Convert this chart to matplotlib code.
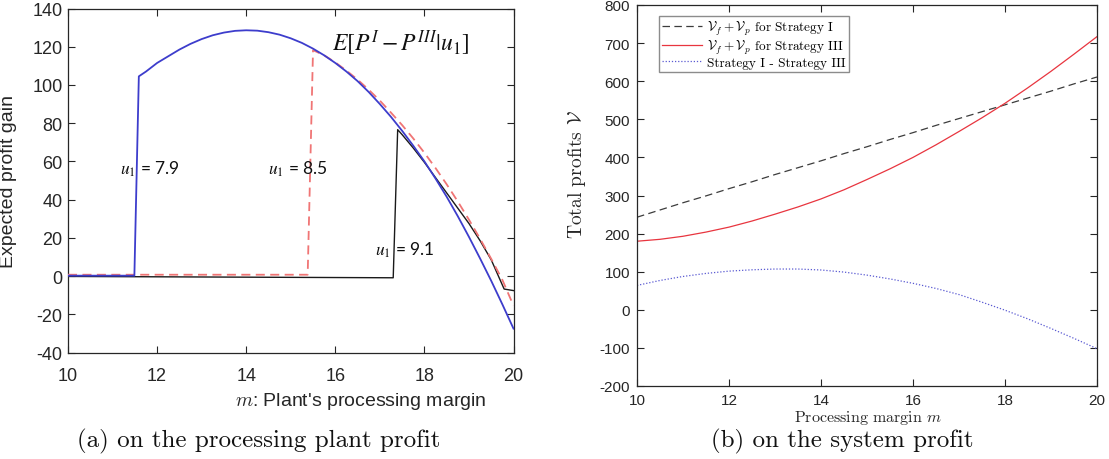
import matplotlib
matplotlib.use("Agg")
import matplotlib.pyplot as plt

plt.rcParams['mathtext.fontset'] = 'cm'
plt.rcParams['axes.unicode_minus'] = False

# ---------------- Left panel data: E[P^I - P^III | u1] ----------------
m_u79 = [10, 11.49, 11.59, 11.75, 12, 12.25, 12.5, 12.75, 13, 13.25, 13.5, 13.75,
         14, 14.25, 14.5, 14.75, 15, 15.25, 15.5, 15.75, 16, 16.25, 16.5, 16.75,
         17, 17.25, 17.5, 17.75, 18, 18.25, 18.5, 18.75, 19, 19.25, 19.5, 19.75, 20]
g_u79 = [0.2, 0.2, 104.5, 107, 111.5, 115, 118.5, 121.5, 124, 126, 127.4, 128.3,
         128.6, 128.4, 127.6, 126.3, 124.4, 122, 119, 115.5, 111.5, 107, 102, 96.3,
         90, 83.3, 76, 68.2, 60, 51, 41.5, 31.3, 20.5, 9.2, -2.5, -14.8, -27.5]

m_u85 = [10, 15.38, 15.5, 15.75, 16, 16.25, 16.5, 16.75, 17, 17.25, 17.5, 17.75,
         18, 18.25, 18.5, 18.75, 19, 19.25, 19.5, 19.75, 20]
g_u85 = [0.7, 0.7, 118.2, 115.5, 111.8, 107.5, 102.8, 97.5, 91.8, 85.5, 79, 72,
         64.5, 56.5, 48, 39, 29.5, 19.5, 9, -2, -15.5]

m_u91 = [10, 17.3, 17.4, 17.5, 17.75, 18, 18.25, 18.5, 18.75, 19, 19.25, 19.5, 19.79, 20]
g_u91 = [-0.2, -0.9, 76.6, 74, 67, 59.5, 51.5, 43.5, 35.5, 27.5, 18.5, 8.5, -6.8, -7.6]

# ---------------- Right panel data: total profits ----------------
m_sys = [10, 10.5, 11, 11.5, 12, 12.5, 13, 13.5, 14, 14.5, 15, 15.5, 16, 16.5,
         17, 17.5, 18, 18.5, 19, 19.5, 20]
v_strat1 = [243, 262, 281, 299, 318, 336, 355, 373, 391, 410, 428, 447, 465, 484,
            502, 520, 538, 556, 574, 593, 611]
v_strat3 = [180, 185, 193, 204, 217, 233, 251, 270, 291, 315, 342, 370, 400, 433,
            468, 504, 542, 583, 626, 671, 717]
v_diff = [64, 77, 87.5, 95.5, 101.5, 105, 107, 107, 104.5, 99, 91, 81, 69.5, 56,
          40, 20, -1, -24, -49, -75, -102]

left_yticks = list(range(-40, 141, 20))
right_yticks = list(range(-200, 801, 100))
xticks = [10, 12, 14, 16, 18, 20]

W, H = 1109, 460
fig = plt.figure(figsize=(W / 100, H / 100), dpi=100)
tc = '#262626'

# ---------------- Left axes ----------------
axL = fig.add_axes([68 / W, 1 - 353.5 / H, (513.5 - 68) / W, (353.5 - 9.5) / H])
axL.plot(m_u91, g_u91, color='#1a1a1a', lw=1.0, zorder=2)
axL.plot(m_u85, g_u85, color='#f07575', lw=1.3, ls=(0, (5, 3)), zorder=3)
axL.plot(m_u79, g_u79, color='#3d3dcc', lw=1.3, zorder=4)
axL.set_xlim(10, 20)
axL.set_ylim(-40, 140)
axL.set_xticks(xticks)
axL.set_yticks(left_yticks)
axL.tick_params(direction='in', top=True, right=True, length=5, width=0.8,
                labelsize=13, colors=tc)
axL.tick_params(axis='x', pad=10.5)
axL.tick_params(axis='y', pad=4)
for lab in axL.get_xticklabels() + axL.get_yticklabels():
    lab.set_family('Liberation Sans')
for s in axL.spines.values():
    s.set_color(tc)
    s.set_linewidth(0.9)
axL.set_ylabel('Expected profit gain', fontsize=14, family='Liberation Sans', color=tc)
axL.yaxis.set_label_coords((17 - 68) / 445.5, 0.5)
fig.text(361 / W, 1 - 402 / H, r"$m$: Plant's processing margin", fontsize=14,
         family='Liberation Sans', color=tc, ha='center', va='center')

axL.text(17.47, 122.5, r'$E[P^I - P^{III}|u_1]$', fontsize=17, ha='center', va='center',
         math_fontfamily='stix', color='#111111')
axL.text(11.84, 56.5, r'$u_1$ = 7.9', fontsize=12.5, ha='center', va='center',
         family='Lato', math_fontfamily='stix', color='#111111')
axL.text(15.16, 56.5, r'$u_1$ = 8.5', fontsize=12.5, ha='center', va='center',
         family='Lato', math_fontfamily='stix', color='#111111')
axL.text(17.56, 14, r'$u_1$ = 9.1', fontsize=12.5, ha='center', va='center',
         family='Lato', math_fontfamily='stix', color='#111111')

# ---------------- Right axes ----------------
axR = fig.add_axes([637 / W, 1 - 387 / H, 460 / W, 381 / H])
axR.plot(m_sys, v_strat1, color='#3c3c3c', lw=0.9, ls=(0, (6, 3.5)),
         label=r'$\mathcal{V}_f + \mathcal{V}_p$ for Strategy I')
axR.plot(m_sys, v_strat3, color='#e8353f', lw=0.9,
         label=r'$\mathcal{V}_f + \mathcal{V}_p$ for Strategy III')
axR.plot(m_sys, v_diff, color='#5a5ad2', lw=0.9, ls=(0, (1, 1.5)),
         label='Strategy I - Strategy III')
axR.set_xlim(10, 20)
axR.set_ylim(-200, 800)
axR.set_xticks(xticks)
axR.set_yticks(right_yticks)
axR.tick_params(direction='in', top=True, right=True, length=5, width=0.8,
                labelsize=11, colors=tc)
axR.tick_params(axis='x', pad=5)
axR.tick_params(axis='y', pad=5)
for lab in axR.get_xticklabels() + axR.get_yticklabels():
    lab.set_family('Liberation Sans')
for s in axR.spines.values():
    s.set_color(tc)
    s.set_linewidth(0.9)
axR.set_ylabel(r'Total profits $\mathcal{V}$', fontsize=14, family='cmr10', color=tc)
axR.yaxis.set_label_coords((588 - 637) / 460, (387 - 175) / 381)
fig.text(868 / W, 1 - 418 / H, r'Processing margin $m$', fontsize=11.5,
         family='cmr10', color=tc, ha='center', va='center')
leg = axR.legend(loc='upper left', bbox_to_anchor=(0.047, 0.972), borderaxespad=0,
                 prop={'family': 'cmr10', 'size': 9.5}, frameon=True, fancybox=False,
                 handlelength=3.0, handletextpad=0.4, labelspacing=0.05,
                 borderpad=0.25)
leg.get_frame().set_edgecolor('#707070')
leg.get_frame().set_linewidth(1.0)

# ---------------- Captions ----------------
fig.text(259 / W, 1 - 441 / H, '(a) on the processing plant profit', fontsize=18,
         family='cmr10', ha='center', va='center', color='#111111')
fig.text(842 / W, 1 - 441 / H, '(b) on the system profit', fontsize=18,
         family='cmr10', ha='center', va='center', color='#111111')

fig.savefig('out.png', dpi=100)
